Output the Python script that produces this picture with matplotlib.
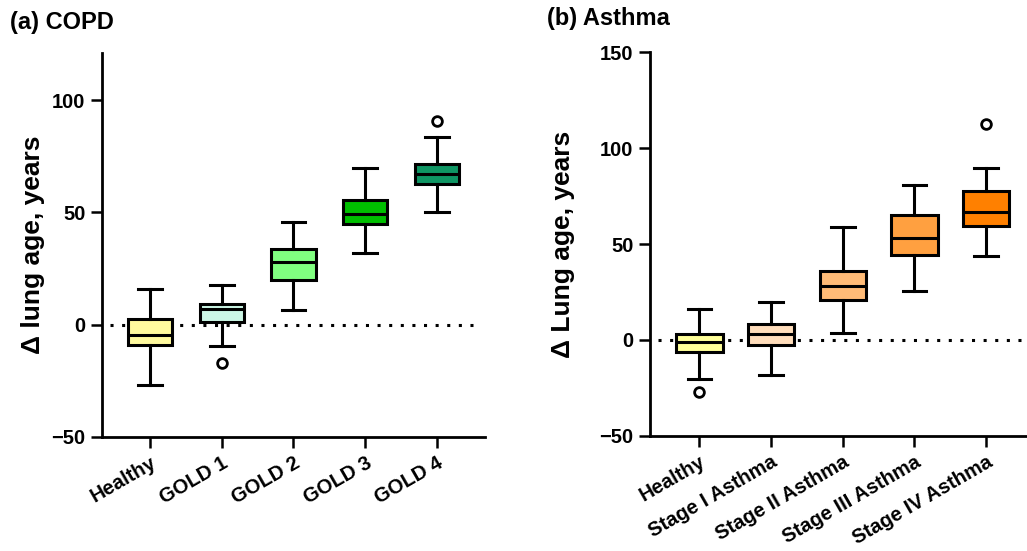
import matplotlib
matplotlib.use("Agg")
import matplotlib.pyplot as plt

plt.rcParams["font.family"] = ["Liberation Sans", "DejaVu Sans"]
plt.rcParams["font.weight"] = "bold"

# (a) COPD -- box statistics
COPD_LABELS = ["Healthy", "GOLD 1", "GOLD 2", "GOLD 3", "GOLD 4"]
COPD_WHISLO = [-26.7, -9.6, 6.7, 32.1, 50.4]
COPD_Q1 = [-9.2, 1.2, 19.9, 44.7, 62.7]
COPD_MED = [-4.4, 7.0, 28.0, 49.2, 67.1]
COPD_Q3 = [2.5, 9.3, 33.9, 55.6, 71.6]
COPD_WHISHI = [16.1, 17.8, 45.8, 69.6, 83.7]
COPD_FLIERS = [[], [-17.0], [], [], [90.7]]
COPD_COLORS = ["#FFFA9E", "#CCF7E6", "#80FF80", "#00BF00", "#0F9664"]

# (b) Asthma
ASTHMA_LABELS = ["Healthy", "Stage I Asthma", "Stage II Asthma",
                 "Stage III Asthma", "Stage IV Asthma"]
ASTHMA_WHISLO = [-20.4, -18.3, 3.8, 25.6, 43.5]
ASTHMA_Q1 = [-6.4, -2.6, 20.9, 44.1, 59.2]
ASTHMA_MED = [-1.2, 3.3, 28.2, 53.3, 66.9]
ASTHMA_Q3 = [3.0, 8.2, 36.1, 65.0, 77.9]
ASTHMA_WHISHI = [16.0, 19.5, 58.7, 81.0, 89.7]
ASTHMA_FLIERS = [[-27.0], [], [], [], [112.4]]
ASTHMA_COLORS = ["#FFFF99", "#FFDDBB", "#FFBB77", "#FFA040", "#FF8000"]


def make_stats(lo, q1, med, q3, hi, fliers):
    return [dict(whislo=a, q1=b, med=c, q3=d, whishi=e, fliers=f)
            for a, b, c, d, e, f in zip(lo, q1, med, q3, hi, fliers)]


def draw_panel(ax, stats, colors, labels, ylim, yticks, ylabel, width):
    lw = 2.2
    bp = ax.bxp(stats, positions=range(len(stats)), widths=width,
                capwidths=0.33, patch_artist=True, showfliers=True,
                boxprops=dict(linewidth=lw, edgecolor="black"),
                medianprops=dict(linewidth=lw, color="black"),
                whiskerprops=dict(linewidth=lw, color="black"),
                capprops=dict(linewidth=lw, color="black"),
                flierprops=dict(marker="o", markersize=7, markerfacecolor="white",
                                markeredgecolor="black", markeredgewidth=2))
    for patch, c in zip(bp["boxes"], colors):
        patch.set_facecolor(c)
        patch.set_zorder(3)
    for key in ("medians", "whiskers", "caps", "fliers"):
        for art in bp[key]:
            art.set_zorder(4)

    ax.axhline(0, color="black", linewidth=2.2, linestyle=(0, (1, 2.8)), zorder=1,
               xmin=0.02, xmax=0.99)

    ax.set_ylim(*ylim)
    ax.set_yticks(yticks)
    ax.set_yticklabels(["\u2212" + str(-t) if t < 0 else str(t) for t in yticks])
    ax.set_xticks(range(len(labels)))
    ax.set_xticklabels(labels, rotation=30, ha="right", rotation_mode="anchor")
    ax.set_ylabel(ylabel, fontsize=19, fontweight="bold")

    for side in ("top", "right"):
        ax.spines[side].set_visible(False)
    for side in ("left", "bottom"):
        ax.spines[side].set_linewidth(2)
    ax.tick_params(axis="both", width=1.8, length=8, labelsize=14.5, pad=4)


fig = plt.figure(figsize=(10.27, 5.51), dpi=100)

ax1 = fig.add_axes([0.0993, 0.2069, 0.3729, 0.6969])
draw_panel(ax1, make_stats(COPD_WHISLO, COPD_Q1, COPD_MED, COPD_Q3, COPD_WHISHI, COPD_FLIERS),
           COPD_COLORS, COPD_LABELS, (-50, 121), [-50, 0, 50, 100],
           "\u0394 lung age, years", 0.62)
ax1.set_xlim(-0.67, 4.67)
ax1.yaxis.set_label_coords(-0.15, 0.5)

ax2 = fig.add_axes([0.6329, 0.2093, 0.3671, 0.6957])
draw_panel(ax2, make_stats(ASTHMA_WHISLO, ASTHMA_Q1, ASTHMA_MED, ASTHMA_Q3, ASTHMA_WHISHI, ASTHMA_FLIERS),
           ASTHMA_COLORS, ASTHMA_LABELS, (-50, 150), [-50, 0, 50, 100, 150],
           "\u0394 Lung age, years", 0.65)
ax2.set_xlim(-0.69, 4.57)
ax2.yaxis.set_label_coords(-0.20, 0.5)

fig.text(0.010, 0.960, "(a) COPD", fontsize=17, fontweight="bold", ha="left", va="center")
fig.text(0.533, 0.967, "(b) Asthma", fontsize=17, fontweight="bold", ha="left", va="center")

fig.savefig("out.png", dpi=100)
